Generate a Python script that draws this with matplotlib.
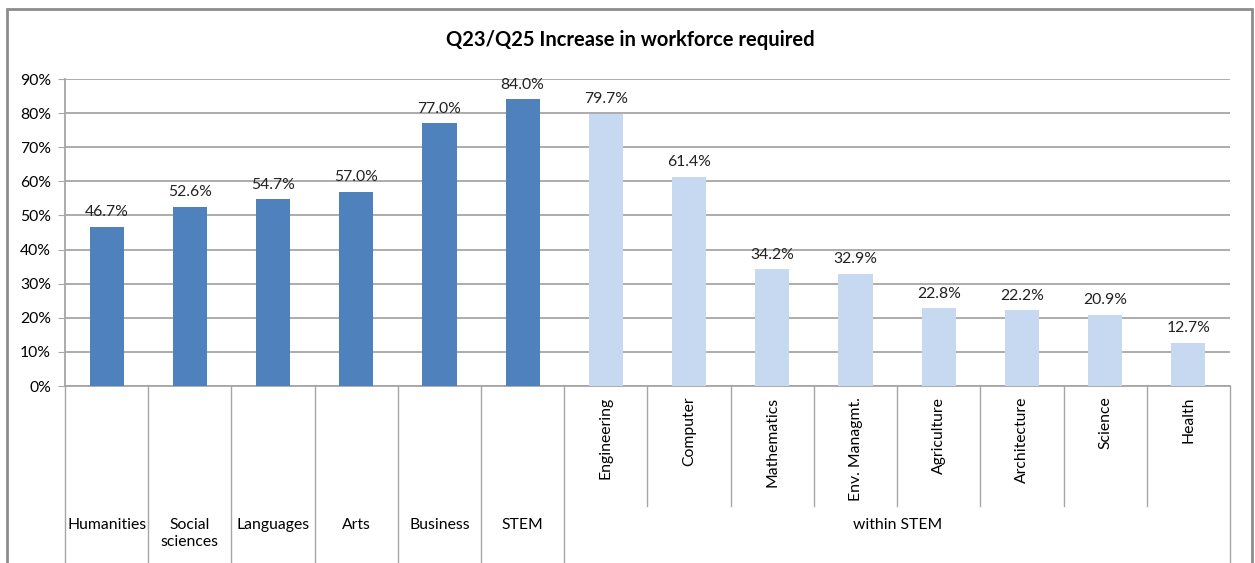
import matplotlib.pyplot as plt
from matplotlib.patches import Rectangle
from matplotlib.ticker import PercentFormatter

plt.rcParams['font.family'] = ['Lato', 'DejaVu Sans']

main_fields = ["Humanities", "Social\nsciences", "Languages", "Arts", "Business", "STEM"]
main_values = [46.7, 52.6, 54.7, 57.0, 77.0, 84.0]
stem_fields = ["Engineering", "Computer", "Mathematics", "Env. Managmt.",
               "Agriculture", "Architecture", "Science", "Health"]
stem_values = [79.7, 61.4, 34.2, 32.9, 22.8, 22.2, 20.9, 12.7]
stem_group = "within STEM"

dark = "#4F81BD"
light = "#C6D9F1"
grid = "#A6A6A6"
fs = 11.3

fig = plt.figure(figsize=(12.55, 5.63), dpi=100)
ax = fig.add_axes([65 / 1255, 177 / 563, 1165 / 1255, 307 / 563])

n_main = len(main_values)
xs_main = list(range(n_main))
xs_stem = [n_main + i for i in range(len(stem_values))]
ax.bar(xs_main, main_values, width=0.41, color=dark, zorder=3)
ax.bar(xs_stem, stem_values, width=0.41, color=light, zorder=3)

for x, v in zip(xs_main + xs_stem, main_values + stem_values):
    ax.annotate(f"{v:.1f}%", (x, v), xytext=(0, 5.5), textcoords="offset points",
                ha="center", va="bottom", fontsize=fs, color="#222222")

n = n_main + len(stem_values)
ax.set_xlim(-0.5, n - 0.5)
ax.set_ylim(0, 90)
ax.set_yticks(range(0, 91, 10))
ax.yaxis.set_major_formatter(PercentFormatter(decimals=0))
ax.tick_params(axis="y", length=5, color=grid, labelsize=fs, pad=5)
ax.set_xticks([])
ax.grid(axis="y", color=grid, linewidth=1.3, zorder=0)
for side in ["top", "right"]:
    ax.spines[side].set_visible(False)
ax.spines["left"].set_color(grid)
ax.spines["bottom"].set_color(grid)
ax.spines["left"].set_linewidth(1.3)
ax.spines["bottom"].set_linewidth(1.3)

# two-level category axis drawn below the plot
tr = ax.get_xaxis_transform()
for i in range(n + 1):
    edge = i - 0.5
    if i <= n_main or i == n:
        y_end = -0.6
    else:
        y_end = -0.391
    ax.plot([edge, edge], [0, y_end], transform=tr, color=grid,
            linewidth=1.0, clip_on=False)

for x, name in zip(xs_main, main_fields):
    ax.text(x, -0.43, name, transform=tr, ha="center", va="top",
            fontsize=fs, linespacing=1.25)
for x, name in zip(xs_stem, stem_fields):
    ax.text(x, -0.035, name, transform=tr, ha="center", va="top",
            rotation=90, fontsize=fs)
ax.text((xs_stem[0] + xs_stem[-1]) / 2, -0.43, stem_group, transform=tr,
        ha="center", va="top", fontsize=fs)

fig.text(630 / 1255, 1 - 40 / 563, "Q23/Q25 Increase in workforce required",
         ha="center", va="center", fontsize=14.5, fontweight="bold")

fig.patches.append(Rectangle((7 / 1255, -0.1), 1245 / 1255, 1.1 - 9 / 563,
                             transform=fig.transFigure, fill=False,
                             edgecolor="#8C8C8C", linewidth=2))

fig.savefig("out.png", dpi=100)
